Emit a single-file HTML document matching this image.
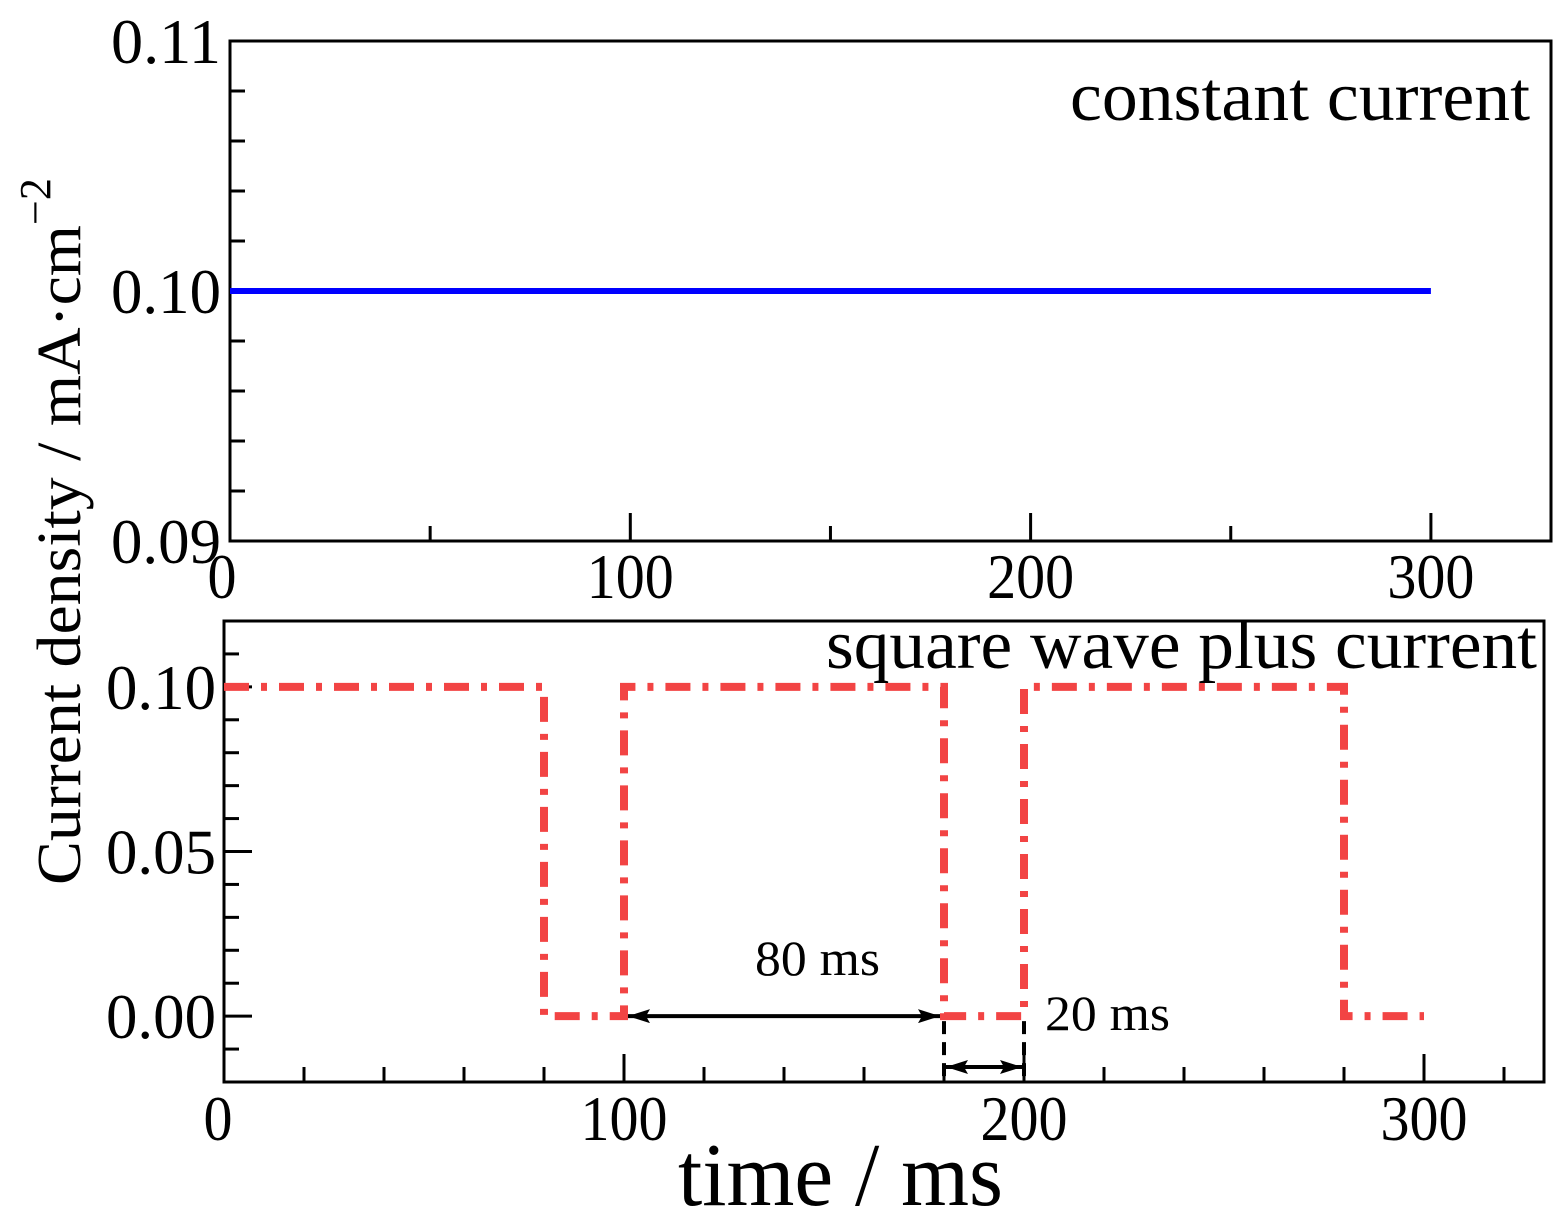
<!DOCTYPE html>
<html><head><meta charset="utf-8"><style>
html,body{margin:0;padding:0;background:#fff;}
svg{display:block;font-family:"Liberation Serif",serif;}
</style></head><body>
<svg id="c" width="1559" height="1229" viewBox="0 0 1559 1229" xmlns="http://www.w3.org/2000/svg"></svg>
<script>
const topTimes = [0, 300];
const topValues = [0.10, 0.10];
const botTimes = [0, 80, 80, 100, 100, 180, 180, 200, 200, 280, 280, 300];
const botValues = [0.10, 0.10, 0, 0, 0.10, 0.10, 0, 0, 0.10, 0.10, 0, 0];
const topYTicks = ["0.09", "0.10", "0.11"];
const botYTicks = ["0.00", "0.05", "0.10"];
const xTicks = ["0", "100", "200", "300"];

const NS = "http://www.w3.org/2000/svg";
const svg = document.getElementById('c');
function el(tag, attrs, parent) {
  const e = document.createElementNS(NS, tag);
  for (const k in attrs) e.setAttribute(k, attrs[k]);
  (parent || svg).appendChild(e);
  return e;
}
function txt(s, attrs, name) {
  const t = el('text', attrs);
  t.textContent = s;
  
  
  return t;
}

const T = {x0: 230, x1: 1551, y0: 41, y1: 541, xmin: 0, xmax: 330, ymin: 0.09, ymax: 0.11};
const B = {x0: 224, x1: 1544, y0: 621, y1: 1082, xmin: 0, xmax: 330, ymin: -0.02, ymax: 0.12};
function sx(p, v) { return p.x0 + (v - p.xmin) / (p.xmax - p.xmin) * (p.x1 - p.x0); }
function sy(p, v) { return p.y1 - (v - p.ymin) / (p.ymax - p.ymin) * (p.y1 - p.y0); }

function frame(p, name, xMinorStep, yMinorStep, yMajor) {
  const r = el('rect', {x: p.x0, y: p.y0, width: p.x1 - p.x0, height: p.y1 - p.y0, fill: 'none', stroke: '#000', 'stroke-width': 3});
  
  
  for (let v = p.xmin + xMinorStep; v < p.xmax; v += xMinorStep) {
    const major = Math.abs(v % 100) < 1e-6;
    const x = sx(p, v);
    const l = el('line', {x1: x, x2: x, y1: p.y1, y2: p.y1 - (major ? 28 : 15), stroke: '#000', 'stroke-width': 3});
    
    
  }
  for (let v = p.ymin + yMinorStep; v < p.ymax - 1e-9; v += yMinorStep) {
    const major = yMajor.some(m => Math.abs(m - v) < 1e-9);
    const y = sy(p, v);
    const l = el('line', {x1: p.x0, x2: p.x0 + (major ? 28 : 15), y1: y, y2: y, stroke: '#000', 'stroke-width': 3});
    
    
  }
}
frame(T, 'top-panel', 50, 0.002, [0.10]);
frame(B, 'bottom-panel', 20, 0.01, [0, 0.05, 0.10]);

topYTicks.forEach(s => {
  const v = parseFloat(s);
  txt(s, {x: T.x0 - 119, y: sy(T, v) + 22, 'font-size': 64, textLength: 110, lengthAdjust: 'spacingAndGlyphs'}, 'top-y-tick-label');
});
botYTicks.forEach(s => {
  const v = parseFloat(s);
  txt(s, {x: B.x0 - 118, y: sy(B, v) + 22, 'font-size': 64, textLength: 110, lengthAdjust: 'spacingAndGlyphs'}, 'bottom-y-tick-label');
});
xTicks.forEach(s => {
  const v = parseFloat(s);
  const w = s.length * 29;
  txt(s, {x: sx(T, v) - (v === 0 ? 8 : 0) - w / 2, y: 598, 'font-size': 64, textLength: w, lengthAdjust: 'spacingAndGlyphs'}, 'top-x-tick-label');
  txt(s, {x: sx(B, v) - (v === 0 ? 6 : 0) - w / 2, y: 1140, 'font-size': 64, textLength: w, lengthAdjust: 'spacingAndGlyphs'}, 'bottom-x-tick-label');
});

let d = topTimes.map((t, i) => (i ? 'L' : 'M') + sx(T, t) + ',' + sy(T, topValues[i])).join(' ');
const p1 = el('path', {d: d, fill: 'none', stroke: '#0000ff', 'stroke-width': 6});


d = botTimes.map((t, i) => (i ? 'L' : 'M') + sx(B, t) + ',' + sy(B, botValues[i])).join(' ');
const p2 = el('path', {d: d, fill: 'none', stroke: '#f24444', 'stroke-width': 8, 'stroke-dasharray': '25 12 6 12'});



txt('constant current', {x: 1530, y: 120, 'font-size': 70, 'text-anchor': 'end', textLength: 460, lengthAdjust: 'spacingAndGlyphs'}, 'constant-current-label');
txt('square wave plus current', {x: 1537, y: 668, 'font-size': 70, 'text-anchor': 'end', textLength: 711, lengthAdjust: 'spacingAndGlyphs'}, 'square-wave-label');

const defs = el('defs', {});
const mk = el('marker', {id: 'ah', viewBox: '0 0 22 14', refX: 22, refY: 7, markerWidth: 22, markerHeight: 14, orient: 'auto-start-reverse', markerUnits: 'userSpaceOnUse'}, defs);
el('path', {d: 'M0,0 L22,7 L0,14 L4,7 z', fill: '#000'}, mk);
const a1 = el('line', {x1: sx(B, 100) + 4, x2: sx(B, 180) - 4, y1: sy(B, 0), y2: sy(B, 0), stroke: '#000', 'stroke-width': 4, 'marker-start': 'url(#ah)', 'marker-end': 'url(#ah)'});


[180, 200].forEach(t => {
  const l = el('line', {x1: sx(B, t), x2: sx(B, t), y1: sy(B, 0) + 5, y2: B.y1, stroke: '#000', 'stroke-width': 4, 'stroke-dasharray': '13 8'});
  
  
});
const a2 = el('line', {x1: sx(B, 180) + 2, x2: sx(B, 200) - 2, y1: 1067, y2: 1067, stroke: '#000', 'stroke-width': 4, 'marker-start': 'url(#ah)', 'marker-end': 'url(#ah)'});


txt('80 ms', {x: 755, y: 975, 'font-size': 50, textLength: 125, lengthAdjust: 'spacingAndGlyphs'}, 'label-80ms');
txt('20 ms', {x: 1045, y: 1030, 'font-size': 50, textLength: 125, lengthAdjust: 'spacingAndGlyphs'}, 'label-20ms');

txt('time / ms', {x: 678, y: 1205, 'font-size': 90, textLength: 325, lengthAdjust: 'spacingAndGlyphs'}, 'x-axis-title');
const yt = el('text', {transform: 'translate(80,885) rotate(-90)', 'font-size': 62});


const ts1 = el('tspan', {textLength: 660, lengthAdjust: 'spacingAndGlyphs'}, yt);
ts1.textContent = 'Current density / mA·cm';
const ts2 = el('tspan', {dy: -30, 'font-size': 44}, yt);
ts2.textContent = '−2';
</script>
</body></html>
